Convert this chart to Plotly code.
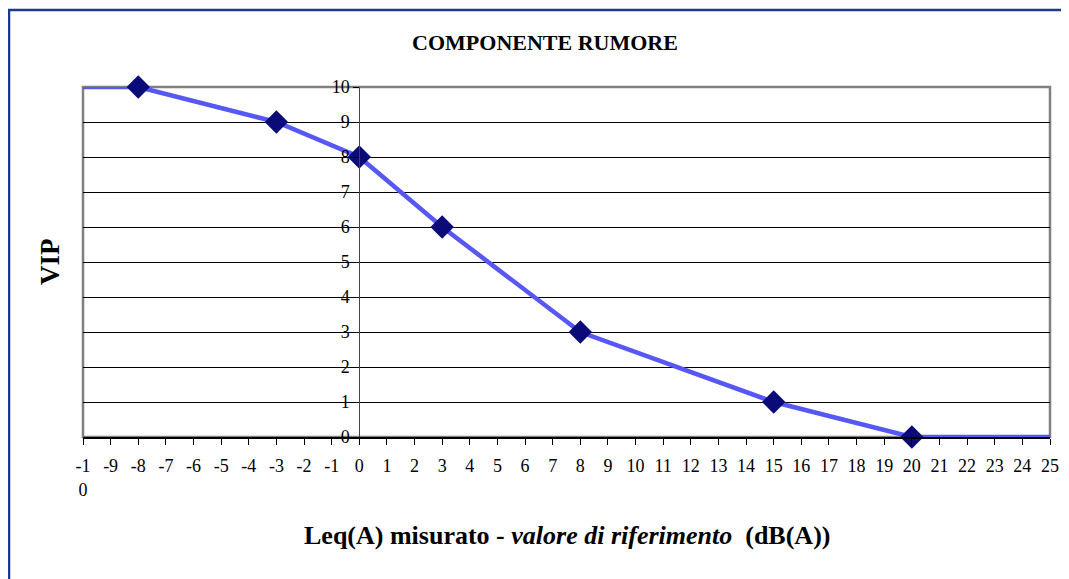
import plotly.graph_objects as go

# curve VIP vs (Leq misurato - valore di riferimento)
line_x = [-10, -8, -3, 0, 3, 8, 15, 20, 25]
line_y = [10, 10, 9, 8, 6, 3, 1, 0, 0]
pts_x = [-8, -3, 0, 3, 8, 15, 20]
pts_y = [10, 9, 8, 6, 3, 1, 0]

x_ticks = list(range(-10, 26))
x_labels = ['-1<br>0'] + [str(v) for v in range(-9, 26)]
y_ticks = list(range(0, 11))

serif = 'Liberation Serif'
# page has an 8px body margin, so figure coords = screen coords - 8
OFF = 8
W, H = 1069 - OFF, 579 - OFF
L, R, T, B = 83 - OFF, 19, 87 - OFF, 142
pw, ph = W - L - R, H - T - B

fig = go.Figure()
fig.add_trace(go.Scatter(x=line_x, y=line_y, mode='lines',
                         line=dict(color='#5757f5', width=4.5),
                         hoverinfo='skip', showlegend=False, cliponaxis=False))
fig.add_trace(go.Scatter(x=pts_x, y=pts_y, mode='markers',
                         marker=dict(symbol='diamond', size=18, color='#0a0a78'),
                         showlegend=False, cliponaxis=False))

pos0 = (0 - x_ticks[0]) / (x_ticks[-1] - x_ticks[0])

fig.update_layout(
    width=W, height=H,
    margin=dict(l=L, r=R, t=T, b=B),
    paper_bgcolor='white', plot_bgcolor='white',
    font=dict(family=serif, color='black', size=18),
    title=dict(text='<b>COMPONENTE RUMORE</b>', x=(545 - OFF) / W, xanchor='center',
               y=1 - (42 - OFF) / H, yanchor='middle', font=dict(size=22, family=serif)),
    xaxis=dict(range=[-10, 25], tickvals=x_ticks, ticktext=x_labels,
               showgrid=False, zeroline=False, showline=True, linecolor='black',
               linewidth=1.5, ticks='outside', ticklen=6, tickcolor='black',
               tickangle=0, tickfont=dict(size=18, family=serif),
               ticklabelstandoff=6, automargin=False),
    yaxis=dict(range=[0, 10], tickvals=y_ticks, anchor='free', position=pos0,
               showgrid=True, gridcolor='black', gridwidth=1, zeroline=False,
               showline=True, linecolor='#444', linewidth=1,
               ticks='outside', ticklen=6, tickcolor='black',
               tickfont=dict(size=18, family=serif), ticklabelstandoff=0,
               automargin=False),
)

# axis titles placed where the reference has them
fig.add_annotation(text='<b>VIP</b>', textangle=-90, xref='paper', yref='paper',
                   x=(50 - 83) / pw, y=(437 - 262) / ph, xanchor='center', yanchor='middle',
                   showarrow=False, font=dict(size=27, family=serif))
fig.add_annotation(text='<b>Leq(A) misurato - <i>valore di riferimento</i>  (dB(A))</b>',
                   xref='paper', yref='paper', x=(567 - 83) / pw, y=-(535 - 437) / ph,
                   xanchor='center', yanchor='middle',
                   showarrow=False, font=dict(size=26, family=serif))

# gray plot frame
fig.add_shape(type='rect', xref='paper', yref='paper', x0=0, x1=1, y0=0, y1=1,
              line=dict(color='#808080', width=2.5), layer='below')
# blue page frame
fig.add_shape(type='rect', xref='paper', yref='paper',
              x0=(9 - 83) / pw, x1=(1100 - 83) / pw,
              y0=-(620 - 437) / ph, y1=1 + (87 - 10) / ph,
              line=dict(color='#1a3a8a', width=2.5))

fig.write_html('out.html')
